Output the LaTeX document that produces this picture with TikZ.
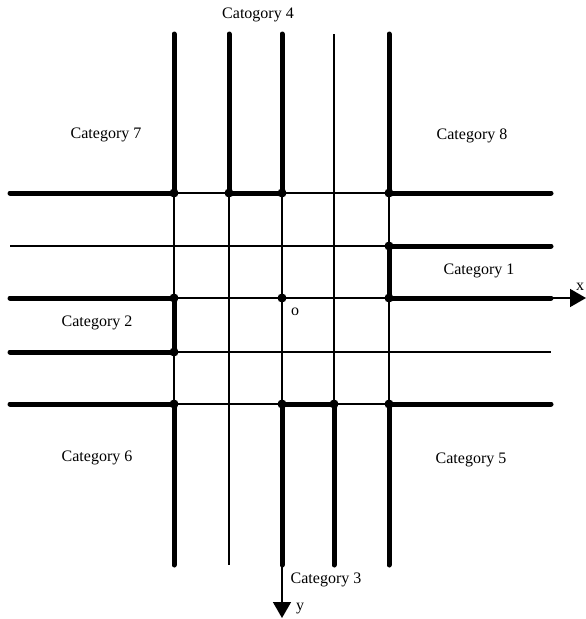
\documentclass[tikz,border=0pt]{standalone}
\usepackage{fontspec}
\setmainfont{Liberation Serif}
\usetikzlibrary{arrows.meta}

\begin{document}
\begin{tikzpicture}[
    x=1pt, y=-1pt,
    thin line/.style={line width=1.6pt},
    thick line/.style={line width=5pt, line cap=round},
    dot/.style={circle, fill=black, inner sep=0pt, minimum size=9pt},
    lbl/.style={font=\fontsize{16}{18}\selectfont, inner sep=0pt},
    axis/.style={line width=1.6pt, -{Triangle[length=16pt, width=18pt]}}
]
\useasboundingbox (0,0) rectangle (586,619);

% Gitterpunkte und Enden
\foreach \i/\xx in {1/174, 2/229, 3/282, 4/334, 5/389} {
  \coordinate (t-\i) at (\xx,34);
  \coordinate (b-\i) at (\xx,565);
  \foreach \j/\yy in {1/193, 2/246, 3/298, 4/352, 5/404}
    \coordinate (p-\i-\j) at (\xx,\yy);
}
\foreach \j/\yy in {1/193, 2/246, 3/298, 4/352, 5/404} {
  \coordinate (l-\j) at (10,\yy);
  \coordinate (r-\j) at (551,\yy);
}
\coordinate (xtip) at (586,298);
\coordinate (ytip) at (282,618);

% duenne Linien
\foreach \i in {1,...,5} \draw[thin line] (t-\i) -- (b-\i);
\foreach \j in {1,...,5} \draw[thin line] (l-\j) -- (r-\j);

% Achsen
\draw[axis] (r-3) -- (xtip);
\draw[axis] (b-3) -- (ytip);

% dicke Grenzen
\draw[thick line] (t-1) -- (p-1-1);
\draw[thick line] (t-2) -- (p-2-1);
\draw[thick line] (t-3) -- (p-3-1);
\draw[thick line] (t-5) -- (p-5-1);
\draw[thick line] (l-1) -- (p-1-1);
\draw[thick line] (p-2-1) -- (p-3-1);
\draw[thick line] (p-5-1) -- (r-1);
\draw[thick line] (r-2) -- (p-5-2) -- (p-5-3) -- (r-3);
\draw[thick line] (l-3) -- (p-1-3) -- (p-1-4) -- (l-4);
\draw[thick line] (l-5) -- (p-1-5) -- (b-1);
\draw[thick line] (b-3) -- (p-3-5) -- (p-4-5) -- (b-4);
\draw[thick line] (r-5) -- (p-5-5) -- (b-5);

% Knoten
\foreach \p in {1-1, 2-1, 3-1, 5-1, 5-2, 1-3, 3-3, 5-3, 1-4, 1-5, 3-5, 4-5, 5-5}
  \node[dot] at (p-\p) {};

% Beschriftungen
\node[lbl] (cat4) at (258,15) {Catogory 4};
\node[lbl] (cat7) at (106,135) {Category 7};
\node[lbl] (cat8) at (472,136) {Category 8};
\node[lbl] (cat1) at (479,271) {Category 1};
\node[lbl] (cat2) at (97,323) {Category 2};
\node[lbl] (orig) at (295,312) {o};
\node[lbl] (cat6) at (97,458) {Category 6};
\node[lbl] (cat5) at (471,460) {Category 5};
\node[lbl] (cat3) at (326,580) {Category 3};
\node[lbl] (ylbl) at (300,609) {y};
\node[lbl] (xlbl) at (580,287) {x};

\end{tikzpicture}
\end{document}
